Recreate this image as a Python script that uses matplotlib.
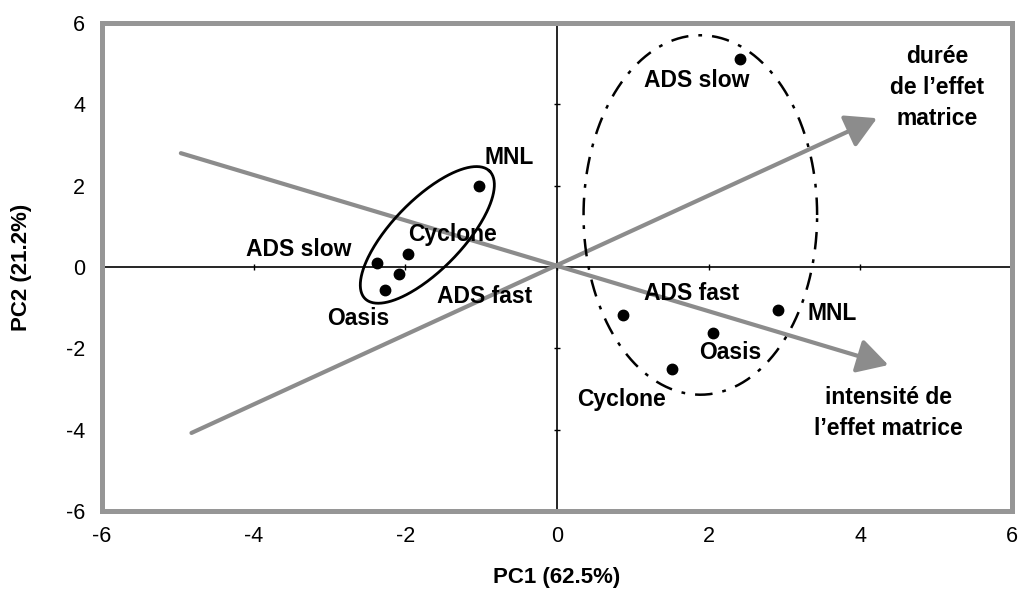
import numpy as np
import matplotlib.pyplot as plt

plt.rcParams['font.family'] = ['Liberation Sans', 'DejaVu Sans']
plt.rcParams['axes.unicode_minus'] = False

# ---------- data ----------
# group 1 (left cluster, solid ellipse)
names_left = ["MNL", "Cyclone", "ADS slow", "ADS fast", "Oasis"]
pc1_left = [-1.03, -1.97, -2.37, -2.08, -2.27]
pc2_left = [2.00, 0.32, 0.10, -0.17, -0.57]

# group 2 (right cluster, dash-dot ellipse)
names_right = ["ADS slow", "ADS fast", "MNL", "Oasis", "Cyclone"]
pc1_right = [2.41, 0.87, 2.92, 2.06, 1.52]
pc2_right = [5.11, -1.18, -1.06, -1.62, -2.50]

# label offsets (pixels) from each point
off_left = [(30, 28), (45, 20), (-79, 13), (85, -23), (-27, -28)]
off_right = [(-43, -21), (69, 22), (54, -3), (17, -20), (-51, -31)]

# loading vectors (start -> tip)
vec_names = ["durée\nde l\u2019effet\nmatrice", "intensité de\nl\u2019effet matrice"]
vec_start = [(-4.82, -4.08), (-4.96, 2.80)]
vec_end = [(4.22, 3.66), (4.37, -2.41)]

ticks = [-6, -4, -2, 0, 2, 4, 6]

gray = "#8c8c8c"

fig = plt.figure(figsize=(10.21, 5.94), dpi=100)
ax = fig.add_axes([0.0999, 0.1397, 0.8913, 0.8215])
ax.set_xlim(-6, 6)
ax.set_ylim(-6, 6)

for s in ax.spines.values():
    s.set_color("#969696")
    s.set_linewidth(3.6)

ax.axhline(0, color="black", lw=1.2, zorder=1)
ax.axvline(0, color="black", lw=1.2, zorder=1)
# small tick marks on the zero lines
ax.plot(ticks, [0] * len(ticks), ls="none", marker="|", ms=4, color="black", mew=1)
ax.plot([0] * len(ticks), ticks, ls="none", marker="_", ms=4, color="black", mew=1)

ax.set_xticks(ticks)
ax.set_yticks(ticks)
ax.tick_params(length=0, labelsize=15.5)
ax.tick_params(axis="x", pad=11)
ax.tick_params(axis="y", pad=12)

fig.text(557 / 1021, 1 - 578 / 594, "PC1 (62.5%)", ha="center", va="center",
         fontsize=16, fontweight="bold")
fig.text(22 / 1021, 1 - 267 / 594, "PC2 (21.2%)", ha="center", va="center",
         rotation=90, fontsize=16, fontweight="bold")

# loading vectors
for (x0, y0), (x1, y1) in zip(vec_start, vec_end):
    ax.annotate("", xy=(x1, y1), xytext=(x0, y0),
                arrowprops=dict(arrowstyle="-|>,head_length=1.25,head_width=0.7",
                                color=gray, lw=3, mutation_scale=15,
                                shrinkA=0, shrinkB=0), zorder=2)

ax.text(5.01, 4.42, vec_names[0], ha="center", va="center", fontsize=16.5,
        fontweight="bold", linespacing=1.45)
ax.text(4.37, -3.59, vec_names[1], ha="center", va="center", fontsize=16.5,
        fontweight="bold", linespacing=1.45)

# points and labels
ax.plot(pc1_left, pc2_left, "o", color="black", ms=7.5, zorder=4)
ax.plot(pc1_right, pc2_right, "o", color="black", ms=7.5, zorder=4)
for n, x, y, o in zip(names_left + names_right, pc1_left + pc1_right,
                      pc2_left + pc2_right, off_left + off_right):
    ax.annotate(n, (x, y), xytext=o, textcoords="offset pixels",
                ha="center", va="center", fontsize=16.5, fontweight="bold", zorder=5)

# ellipses
t = np.linspace(0, 2 * np.pi, 300)
c1 = (-1.71, 0.79)
u1 = (0.82, 1.57)
v1 = (-0.33, 0.60)
ax.plot(c1[0] + u1[0] * np.cos(t) + v1[0] * np.sin(t),
        c1[1] + u1[1] * np.cos(t) + v1[1] * np.sin(t),
        color="black", lw=2, zorder=3)

c2 = (1.89, 1.28)
r2 = (1.54, 4.42)
ax.plot(c2[0] + r2[0] * np.cos(t), c2[1] + r2[1] * np.sin(t),
        color="black", lw=1.8, ls=(0, (7, 4, 1.5, 4)), zorder=3)

fig.savefig("out.png", dpi=100)
